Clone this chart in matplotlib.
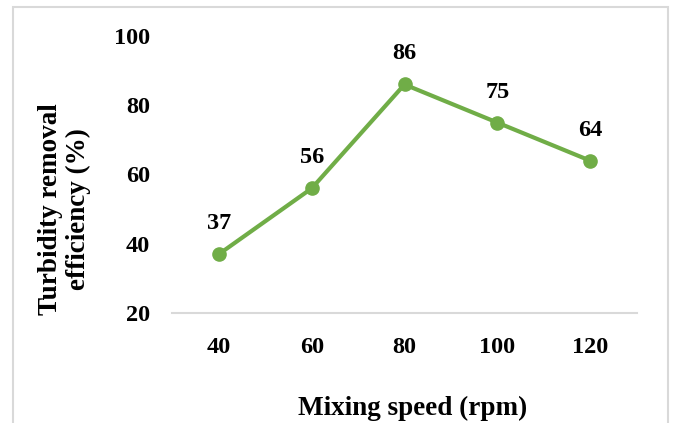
import matplotlib
matplotlib.use("Agg")
import matplotlib.pyplot as plt
from matplotlib.patches import Rectangle

speeds = ["40", "60", "80", "100", "120"]
efficiency = [37, 56, 86, 75, 64]
y_ticks = [20, 40, 60, 80, 100]

plt.rcParams['font.family'] = ['Liberation Serif', 'DejaVu Serif']
plt.rcParams['font.weight'] = 'bold'

fig = plt.figure(figsize=(6.73, 4.23), dpi=100)
fig.patches.append(Rectangle((13/673, -0.05), (668-13)/673, 1 - 7/423 + 0.05,
                             transform=fig.transFigure, fill=False,
                             edgecolor='#D9D9D9', linewidth=1.5))
ax = fig.add_axes([172.5/673, 1 - 313/423, (636.5-172.5)/673, (313-36)/423])
x = list(range(len(speeds)))
green = '#70AD47'
ax.plot(x, efficiency, color=green, linewidth=3, marker='o', markersize=9.5,
        solid_capstyle='round')
for xi, v in zip(x, efficiency):
    ax.annotate(f"{v}", (xi, v), xytext=(0, 22), textcoords='offset points',
                ha='center', va='center', fontsize=17.5, fontweight='bold')
ax.set_xlim(-0.5, len(speeds) - 0.5)
ax.set_ylim(20, 100)
ax.set_xticks(x)
ax.set_xticklabels(speeds)
ax.set_yticks(y_ticks)
ax.tick_params(axis='both', length=0, labelsize=17.5)
ax.tick_params(axis='x', pad=17)
ax.tick_params(axis='y', pad=16)
for lab in ax.get_xticklabels() + ax.get_yticklabels():
    lab.set_fontweight('bold')
for s in ['top', 'right', 'left']:
    ax.spines[s].set_visible(False)
ax.spines['bottom'].set_color('#D9D9D9')
ax.spines['bottom'].set_linewidth(1.5)
ax.set_xlabel("Mixing speed (rpm)", fontsize=19.5, fontweight='bold')
ax.xaxis.set_label_coords(0.518, -0.30)
ax.set_ylabel("Turbidity removal\nefficiency (%)", fontsize=19.5, fontweight='bold',
              linespacing=1.15)
ax.yaxis.set_label_coords(-0.176, 0.375)
fig.savefig("out.png", dpi=100)
